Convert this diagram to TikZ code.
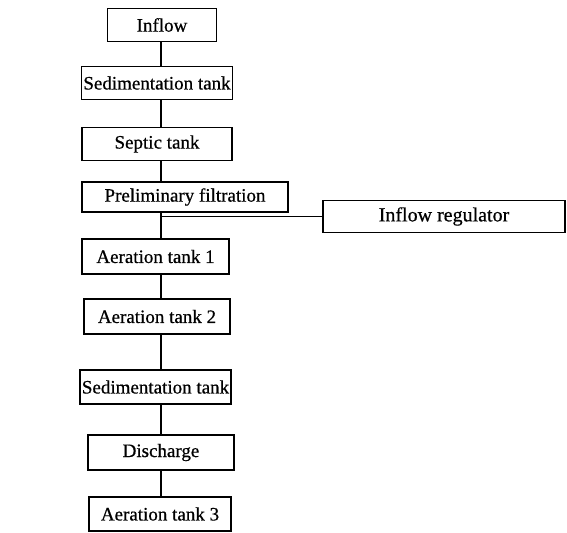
\documentclass[tikz,border=0pt]{standalone}
\usepackage{fontspec}
\setmainfont{Liberation Serif}[FakeBold=0.6]
\usetikzlibrary{positioning}

\tikzset{
  stage/.style={draw, line width=0.8pt, inner sep=0pt, minimum height=16.5pt,
    font=\fontsize{9.5}{11}\selectfont},
  link/.style={line width=1pt},
  branch/.style={line width=0.5pt}
}

\begin{document}
\begin{tikzpicture}[x=0.5pt,y=-0.5pt]
\useasboundingbox (0,0) rectangle (567,533);
% main column
\node[stage, minimum width=54.5pt] (inflow) at (162,25) {Inflow};
\node[stage, minimum width=75.5pt] (sed1)   at (157,83) {Sedimentation tank};
\node[stage, minimum width=75pt]   (septic) at (157,144) {Septic tank};
\node[stage, minimum width=103pt, minimum height=15pt] (prefilt) at (185,197) {Preliminary filtration};
\node[stage, minimum width=73.5pt, minimum height=17.5pt] (aer1) at (155.5,256.5) {Aeration tank 1};
\node[stage, minimum width=73pt, minimum height=17.5pt]   (aer2) at (157,316.5) {Aeration tank 2};
\node[stage, minimum width=75.5pt, minimum height=17pt]   (sed2) at (155.5,387) {Sedimentation tank};
\node[stage, minimum width=73pt, minimum height=17.5pt]   (disch) at (161,452.5) {Discharge};
\node[stage, minimum width=71pt, minimum height=17pt]     (aer3) at (160,514) {Aeration tank 3};
% side branch
\node[stage, font=\fontsize{10}{12}\selectfont, minimum width=121pt, minimum height=16pt] (regul) at (444,216.5) {Inflow regulator};
\coordinate (spine) at (161,0);
\coordinate (tee) at (regul.west -| spine);

\draw[link] (inflow.south -| spine) -- (sed1.north -| spine);
\draw[link] (sed1.south -| spine) -- (septic.north -| spine);
\draw[link] (septic.south -| spine) -- (prefilt.north -| spine);
\draw[link] (prefilt.south -| spine) -- (aer1.north -| spine);
\draw[link] (aer1.south -| spine) -- (aer2.north -| spine);
\draw[link] (aer2.south -| spine) -- (sed2.north -| spine);
\draw[link] (sed2.south -| spine) -- (disch.north -| spine);
\draw[link] (disch.south -| spine) -- (aer3.north -| spine);
\draw[branch] (tee) -- (regul.west);
\end{tikzpicture}
\end{document}
